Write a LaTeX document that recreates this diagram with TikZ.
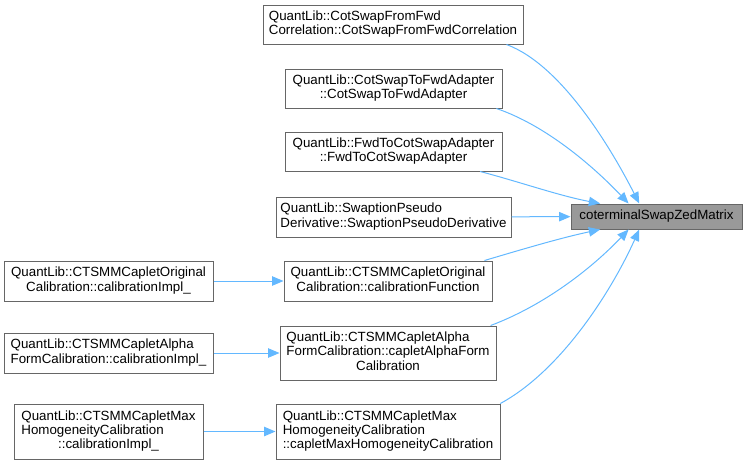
\documentclass[tikz,border=0pt]{standalone}
\usepackage{fontspec}
\setmainfont{Liberation Sans}
\usepackage{xcolor}
\usetikzlibrary{arrows.meta}
\definecolor{callColor}{HTML}{63B8FF}
\definecolor{boxLine}{HTML}{666666}
\definecolor{hlFill}{HTML}{999999}

\begin{document}
\begin{tikzpicture}[
    x=0.75pt, y=-0.75pt,
    fn/.style={draw=boxLine, line width=0.75pt, inner sep=0pt, align=center, fill=white,
      font=\fontsize{10}{10.75}\selectfont},
    hl/.style={fn, fill=hlFill},
    call/.style={draw=callColor, line width=0.75pt, -{Triangle[length=8.5pt,width=7pt]}}
  ]
  \useasboundingbox (0,0) rectangle (748,465);

  \node[hl, minimum width=128.25pt, minimum height=18.75pt] (m) at (656.5,216.5) {coterminalSwapZedMatrix};

  % direct callers
  \node[fn, minimum width=195pt, minimum height=29.25pt] (b1) at (393,24.5)
    {\begin{tabular}{@{}l@{}}QuantLib::CotSwapFromFwd\\Correlation::CotSwapFromFwdCorrelation\end{tabular}};
  \node[fn, minimum width=162.75pt, minimum height=29.25pt] (b2) at (393.5,88.5)
    {\begin{tabular}{@{}l@{}}QuantLib::CotSwapToFwdAdapter\\\multicolumn{1}{@{}c@{}}{::CotSwapToFwdAdapter}\end{tabular}};
  \node[fn, minimum width=162.75pt, minimum height=29.25pt] (b3) at (393.5,151.5)
    {\begin{tabular}{@{}l@{}}QuantLib::FwdToCotSwapAdapter\\\multicolumn{1}{@{}c@{}}{::FwdToCotSwapAdapter}\end{tabular}};
  \node[fn, minimum width=176.25pt, minimum height=30pt] (b4) at (393.5,217)
    {\begin{tabular}{@{}l@{}}QuantLib::SwaptionPseudo\\Derivative::SwaptionPseudoDerivative\end{tabular}};
  \node[fn, minimum width=156pt, minimum height=30pt] (b5) at (388,281)
    {\begin{tabular}{@{}l@{}}QuantLib::CTSMMCapletOriginal\\\multicolumn{1}{@{}c@{}}{Calibration::calibrationFunction}\end{tabular}};
  \node[fn, minimum width=162pt, minimum height=40.5pt] (b6) at (388,353)
    {\begin{tabular}{@{}l@{}}QuantLib::CTSMMCapletAlpha\\FormCalibration::capletAlphaForm\\\multicolumn{1}{@{}c@{}}{Calibration}\end{tabular}};
  \node[fn, minimum width=168pt, minimum height=41.25pt] (b7) at (388,431.5)
    {\begin{tabular}{@{}l@{}}QuantLib::CTSMMCapletMax\\HomogeneityCalibration\\::capletMaxHomogeneityCalibration\end{tabular}};

  % second level
  \node[fn, minimum width=156.75pt, minimum height=30pt] (l5) at (108.5,281)
    {\begin{tabular}{@{}l@{}}QuantLib::CTSMMCapletOriginal\\\multicolumn{1}{@{}c@{}}{Calibration::calibrationImpl\_}\end{tabular}};
  \node[fn, minimum width=156.75pt, minimum height=30pt] (l6) at (108.5,353)
    {\begin{tabular}{@{}l@{}}QuantLib::CTSMMCapletAlpha\\FormCalibration::calibrationImpl\_\end{tabular}};
  \node[fn, minimum width=141.75pt, minimum height=41.25pt] (l7) at (108.5,431.5)
    {\begin{tabular}{@{}l@{}}QuantLib::CTSMMCapletMax\\HomogeneityCalibration\\\multicolumn{1}{@{}c@{}}{::calibrationImpl\_}\end{tabular}};

  \draw[call] (b1.-10) .. controls (562,65) and (612,150) .. (m.143);
  \draw[call] (b2.-11) .. controls (545,125) and (592,165) .. (m.155);
  \draw[call] (b3.-13) .. controls (520,182) and (560,196) .. (m.167);
  \draw[call] (b4) -- (m);
  \draw[call] (b5.12) .. controls (520,250) and (560,238) .. (m.193);
  \draw[call] (b6.15) .. controls (545,305) and (592,268) .. (m.205);
  \draw[call] (b7.14) .. controls (562,370) and (612,290) .. (m.217);

  \draw[call] (l5) -- (b5);
  \draw[call] (l6) -- (b6);
  \draw[call] (l7) -- (b7);
\end{tikzpicture}
\end{document}
